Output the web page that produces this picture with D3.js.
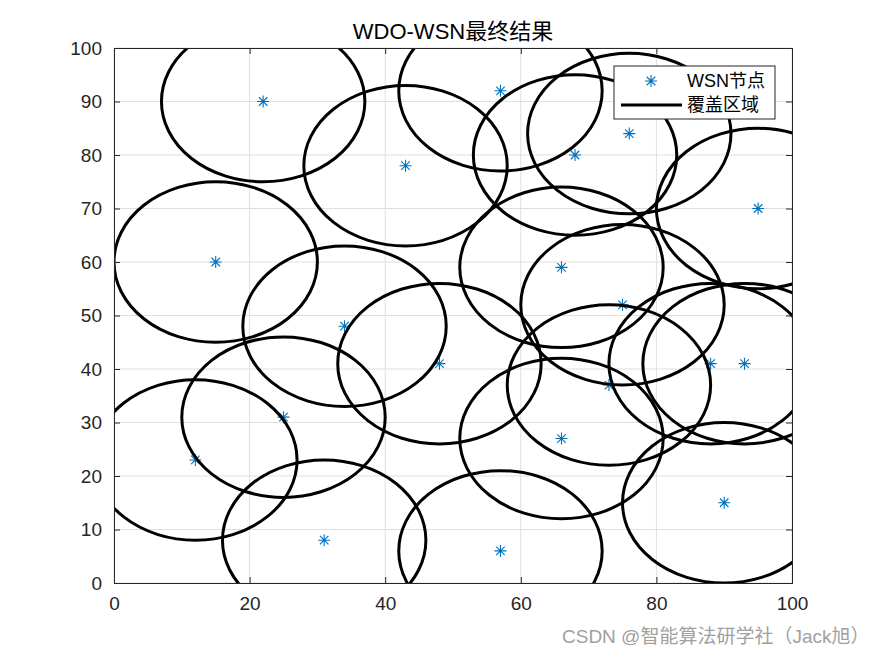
<!DOCTYPE html>
<html>
<head>
<meta charset="utf-8">
<script src="https://cdn.jsdelivr.net/npm/d3@7"></script>
<style>
  body { margin: 0; background: #fff; }
  svg { font-family: "Liberation Sans", Arial, "Noto Sans CJK SC", sans-serif; }
</style>
</head>
<body>
<svg width="875" height="656"></svg>
<script>
// node coordinates
let nodeX = [22, 43, 57, 68, 76, 95, 15, 66, 34, 75, 48, 88, 93, 73, 25, 66, 12, 90, 31, 57];
let nodeY = [90, 78, 92, 80, 84, 70, 60, 59, 48, 52, 41, 41, 41, 37, 31, 27, 23, 15, 8, 6];
let radius = 15;
let xTicks = [0, 20, 40, 60, 80, 100];
let yTicks = [0, 10, 20, 30, 40, 50, 60, 70, 80, 90, 100];
let legendLabels = ["WSN节点", "覆盖区域"];

let nodes = nodeX.map(function (d, i) { return { x: d, y: nodeY[i] }; });

let svgWidth = 875, svgHeight = 656;
let margin = { top: 48, right: 83, bottom: 73, left: 114 };
let width = svgWidth - margin.left - margin.right;
let height = svgHeight - margin.top - margin.bottom;

let svg = d3.select("svg");

let g = svg.append("g")
    .attr("transform", "translate(" + margin.left + "," + margin.top + ")");

let x = d3.scaleLinear().domain([0, 100]).range([0, width]);
let y = d3.scaleLinear().domain([0, 100]).range([height, 0]);

// grid
g.append("g")
    .selectAll("line")
    .data(xTicks)
    .join("line")
    .attr("x1", function (d) { return x(d); })
    .attr("x2", function (d) { return x(d); })
    .attr("y1", 0)
    .attr("y2", height)
    .attr("stroke", "#dfdfdf")
    .attr("stroke-width", 1);

g.append("g")
    .selectAll("line")
    .data(yTicks)
    .join("line")
    .attr("y1", function (d) { return y(d); })
    .attr("y2", function (d) { return y(d); })
    .attr("x1", 0)
    .attr("x2", width)
    .attr("stroke", "#dfdfdf")
    .attr("stroke-width", 1);

svg.append("clipPath")
    .attr("id", "plotClip")
    .append("rect")
    .attr("width", width)
    .attr("height", height);

let plot = g.append("g").attr("clip-path", "url(#plotClip)");

// sensor nodes, asterisk marker
let star = plot.selectAll(".node")
    .data(nodes)
    .join("g")
    .attr("class", "node")
    .attr("transform", function (d) { return "translate(" + x(d.x) + "," + y(d.y) + ")"; });

function drawStar(sel, s) {
    let a = s * 0.7071;
    sel.append("path")
        .attr("d", "M0," + (-s) + "V" + s + "M" + (-s) + ",0H" + s +
            "M" + (-a) + "," + (-a) + "L" + a + "," + a + "M" + (-a) + "," + a + "L" + a + "," + (-a))
        .attr("stroke", "#0072BD")
        .attr("stroke-width", 1.1)
        .attr("fill", "none");
}
drawStar(star, 6);

// coverage circles
plot.selectAll(".cover")
    .data(nodes)
    .join("ellipse")
    .attr("class", "cover")
    .attr("cx", function (d) { return x(d.x); })
    .attr("cy", function (d) { return y(d.y); })
    .attr("rx", x(radius) - x(0))
    .attr("ry", y(0) - y(radius))
    .attr("fill", "none")
    .attr("stroke", "#000")
    .attr("stroke-width", 3);

// axes
let xAxis = g.append("g")
    .attr("transform", "translate(0," + height + ")")
    .call(d3.axisBottom(x).tickValues(xTicks).tickSize(-6).tickPadding(14));
let xAxisTop = g.append("g")
    .call(d3.axisTop(x).tickValues(xTicks).tickSize(-6).tickFormat(""));
let yAxis = g.append("g")
    .call(d3.axisLeft(y).tickValues(yTicks).tickSize(-6).tickPadding(12));
let yAxisRight = g.append("g")
    .attr("transform", "translate(" + width + ",0)")
    .call(d3.axisRight(y).tickValues(yTicks).tickSize(-6).tickFormat(""));

[xAxis, xAxisTop, yAxis, yAxisRight].forEach(function (a) {
    a.select(".domain").attr("stroke", "#262626").attr("stroke-width", 1);
    a.selectAll(".tick line").attr("stroke", "#262626");
    a.selectAll("text")
        .attr("fill", "#262626")
        .style("font-size", "19px")
        .style("font-family", "\"Liberation Sans\", Arial, sans-serif");
});

// title
svg.append("text")
    .attr("x", margin.left + width / 2)
    .attr("y", 39)
    .attr("text-anchor", "middle")
    .attr("fill", "#000")
    .style("font-size", "22px")
    .text("WDO-WSN最终结果");

// legend
let legend = svg.append("g").attr("transform", "translate(614,66)");
legend.append("rect")
    .attr("width", 161)
    .attr("height", 53)
    .attr("fill", "#fff")
    .attr("stroke", "#262626")
    .attr("stroke-width", 1);

let legendStar = legend.append("g").attr("transform", "translate(37,15)");
drawStar(legendStar, 6);

legend.append("line")
    .attr("x1", 7)
    .attr("x2", 68)
    .attr("y1", 39)
    .attr("y2", 39)
    .attr("stroke", "#000")
    .attr("stroke-width", 3);

legend.selectAll(".ltext")
    .data(legendLabels)
    .join("text")
    .attr("class", "ltext")
    .attr("x", 73)
    .attr("y", function (d, i) { return 21 + i * 24; })
    .attr("fill", "#000")
    .style("font-size", "18px")
    .text(function (d) { return d; });

// watermark
svg.append("text")
    .attr("x", 562)
    .attr("y", 643)
    .attr("fill", "#a0a0a0")
    .style("font-size", "19px")
    .text("CSDN @智能算法研学社（Jack旭）");
</script>
</body>
</html>
